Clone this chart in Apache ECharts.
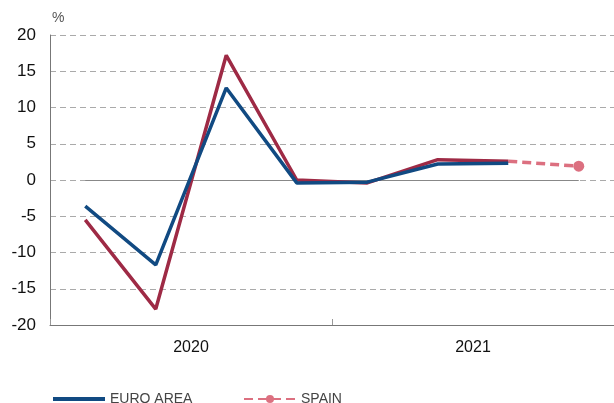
<!DOCTYPE html>
<html>
<head>
<meta charset="utf-8">
<script src="https://cdn.jsdelivr.net/npm/echarts@6/dist/echarts.min.js"></script>
<style>
  html, body { margin: 0; padding: 0; background: #fff; }
  #chart { width: 614px; height: 403px; }
</style>
</head>
<body>
<div id="chart"></div>
<script>
// quarters (hidden axis) and years (labelled axis)
const quarters = ['2020 Q1', '2020 Q2', '2020 Q3', '2020 Q4', '2021 Q1', '2021 Q2', '2021 Q3', '2021 Q4'];
const years = ['2020', '2021'];
const yTicks = { min: -20, max: 20, interval: 5 };

// quarterly GDP change, %
const euroArea = [-3.6, -11.7, 12.7, -0.4, -0.3, 2.2, 2.3, null];
const spain = [-5.5, -17.8, 17.2, 0.0, -0.4, 2.8, 2.6, null];
const spainForecast = [null, null, null, null, null, null, 2.6, 1.9];

const chart = echarts.init(document.getElementById('chart'));

const legendText = { color: '#444', fontSize: 14, fontFamily: 'Liberation Sans Narrow, Arial Narrow, sans-serif' };

const option = {
  animation: false,
  grid: { left: 50, right: 0, top: 35, bottom: 78 },
  legend: [
    {
      left: 48,
      top: 387,
      icon: 'rect',
      itemWidth: 52,
      itemHeight: 4,
      itemGap: 6,
      data: ['EURO AREA'],
      textStyle: legendText
    },
    {
      left: 238,
      top: 387,
      itemWidth: 52,
      itemHeight: 10,
      data: ['SPAIN'],
      textStyle: legendText
    }
  ],
  xAxis: [
    {
      type: 'category',
      data: quarters,
      boundaryGap: true,
      axisLine: { show: false },
      axisTick: { show: false },
      axisLabel: { show: false }
    },
    {
      type: 'category',
      data: years,
      position: 'bottom',
      boundaryGap: true,
      axisLine: { show: true, lineStyle: { color: '#777', width: 1 } },
      axisTick: { show: true, length: 6, inside: true, lineStyle: { color: '#999' } },
      axisLabel: { color: '#111', fontSize: 16, margin: 15, fontFamily: 'Helvetica, Arial, sans-serif' }
    }
  ],
  yAxis: {
    type: 'value',
    min: yTicks.min,
    max: yTicks.max,
    interval: yTicks.interval,
    name: '%',
    nameGap: 10,
    nameTextStyle: { color: '#555', fontSize: 14, align: 'left', padding: [0, 0, 0, 2] },
    axisLine: { show: true, lineStyle: { color: '#777' } },
    axisTick: { show: false },
    axisLabel: { color: '#111', fontSize: 17, margin: 14, fontFamily: 'Helvetica, Arial, sans-serif' },
    splitLine: { show: true, lineStyle: { color: '#aaa', type: [6, 4], width: 1 } }
  },
  series: [
    {
      name: 'SPAIN',
      type: 'line',
      data: spainForecast.map((v, i) => (i === 6 ? { value: v, symbol: 'none' } : v)),
      symbol: 'circle',
      symbolSize: 11,
      lineStyle: { color: '#dc7080', width: 3.5, type: [9, 5] },
      itemStyle: { color: '#dc7080' },
      z: 2
    },
    {
      name: 'SPAIN (actual)',
      type: 'line',
      data: spain,
      symbol: 'none',
      lineStyle: { color: '#9e2a45', width: 3.5 },
      itemStyle: { color: '#9e2a45' },
      z: 3
    },
    {
      name: 'EURO AREA',
      type: 'line',
      data: euroArea,
      symbol: 'none',
      lineStyle: { color: '#114a82', width: 3.5 },
      itemStyle: { color: '#114a82' },
      z: 4,
      markLine: {
        silent: true,
        symbol: 'none',
        label: { show: false },
        lineStyle: { color: '#888', width: 1, type: 'solid' },
        data: [[{ coord: [0, 0] }, { coord: [7, 0] }]],
        z: 1
      }
    }
  ]
};

chart.setOption(option);
</script>
</body>
</html>
